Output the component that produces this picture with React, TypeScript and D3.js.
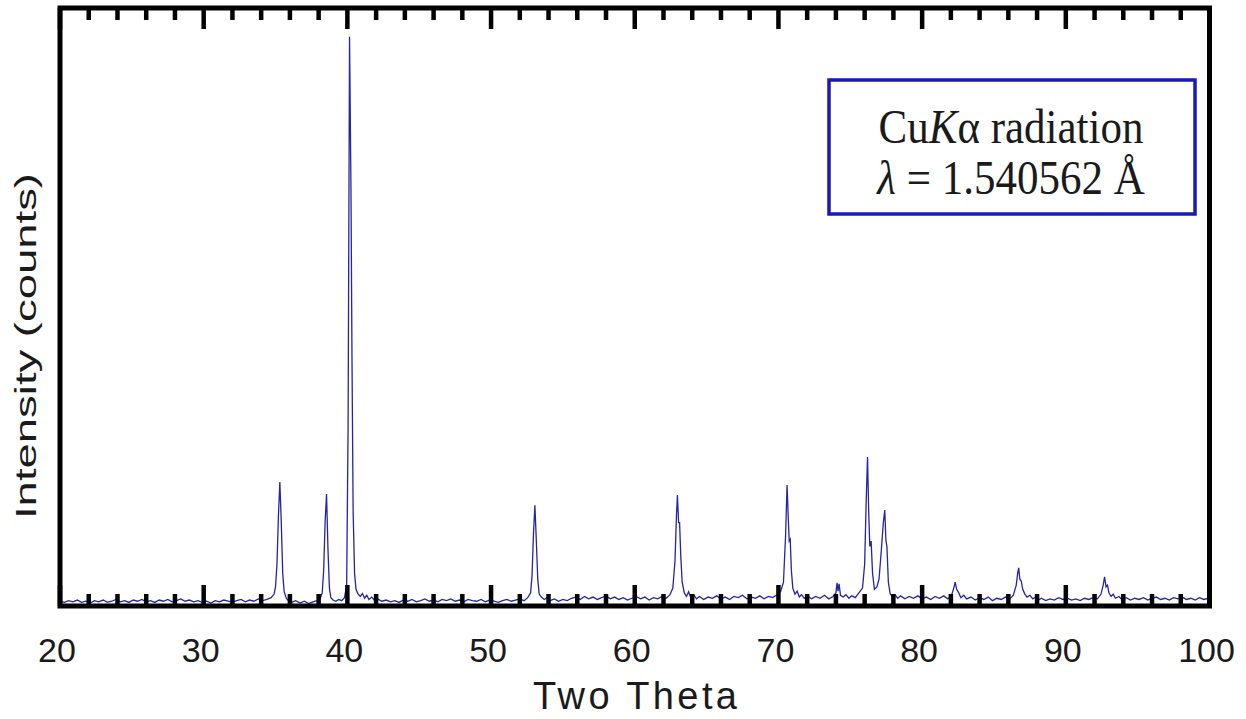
import React from "react";
import * as d3 from "d3";

// XRD scan: [2θ (deg), intensity (arb. counts)]
const scan: [number, number][] = [
  [20.0, 8], [20.3, 6], [20.6, 9], [20.9, 7], [21.2, 10], [21.5, 6], [21.8, 8], [22.1, 5], [22.4, 9], [22.7, 7],
  [23.0, 10], [23.3, 6], [23.6, 8], [23.9, 11], [24.2, 7], [24.5, 9], [24.8, 6], [25.1, 10], [25.4, 8], [25.7, 11],
  [26.0, 7], [26.3, 9], [26.6, 6], [26.9, 10], [27.2, 8], [27.5, 11], [27.8, 7], [28.1, 9], [28.4, 12], [28.7, 8],
  [29.0, 10], [29.3, 7], [29.6, 9], [29.9, 6], [30.2, 8], [30.5, 5], [30.8, 9], [31.1, 7], [31.4, 10], [31.7, 8],
  [32.0, 6], [32.3, 9], [32.6, 11], [32.9, 7], [33.2, 10], [33.5, 8], [33.8, 12], [34.1, 9], [34.4, 11], [34.7, 14],
  [34.9, 20], [35.0, 32], [35.1, 70], [35.2, 150], [35.3, 208], [35.4, 140], [35.5, 55], [35.6, 24], [35.75, 13],
  [35.9, 9], [36.1, 6], [36.4, 9], [36.7, 5], [37.0, 8], [37.3, 4], [37.6, 7], [37.9, 9], [38.1, 12], [38.25, 22],
  [38.35, 60], [38.45, 140], [38.55, 188], [38.65, 95], [38.75, 30], [38.85, 14], [39.0, 10], [39.2, 8], [39.4, 11],
  [39.6, 9], [39.8, 14], [39.95, 35], [40.05, 300], [40.15, 955], [40.25, 700], [40.32, 420], [40.4, 160], [40.5, 55],
  [40.6, 28], [40.75, 20], [40.9, 16], [41.05, 21], [41.2, 13], [41.35, 18], [41.5, 11], [41.7, 15], [41.9, 9],
  [42.1, 12], [42.4, 8], [42.7, 10], [43.0, 7], [43.3, 9], [43.6, 6], [43.9, 10], [44.2, 8], [44.5, 11], [44.8, 7],
  [45.1, 9], [45.4, 12], [45.7, 8], [46.0, 10], [46.3, 7], [46.6, 11], [46.9, 9], [47.2, 12], [47.5, 8], [47.8, 10],
  [48.1, 7], [48.4, 11], [48.7, 9], [49.0, 8], [49.3, 11], [49.6, 7], [49.9, 10], [50.2, 8], [50.5, 6], [50.8, 9],
  [51.1, 11], [51.4, 8], [51.7, 10], [52.0, 12], [52.3, 9], [52.55, 14], [52.75, 22], [52.85, 50], [52.95, 120],
  [53.05, 169], [53.15, 110], [53.25, 45], [53.35, 20], [53.5, 15], [53.7, 11], [53.9, 14], [54.1, 9], [54.4, 12],
  [54.7, 8], [55.0, 11], [55.3, 9], [55.6, 13], [55.9, 15], [56.2, 11], [56.5, 16], [56.8, 12], [57.1, 15], [57.4, 11],
  [57.7, 14], [58.0, 17], [58.3, 12], [58.6, 15], [58.9, 11], [59.2, 14], [59.5, 10], [59.8, 13], [60.1, 16], [60.4, 12],
  [60.7, 15], [61.0, 10], [61.3, 14], [61.6, 12], [61.9, 16], [62.2, 13], [62.45, 19], [62.65, 30], [62.8, 75],
  [62.9, 150], [62.97, 186], [63.05, 140], [63.12, 140], [63.2, 85], [63.3, 40], [63.45, 22], [63.6, 16], [63.75, 24],
  [63.9, 14], [64.1, 19], [64.3, 12], [64.5, 16], [64.8, 11], [65.1, 15], [65.4, 13], [65.7, 17], [66.0, 12], [66.3, 15],
  [66.6, 11], [66.9, 16], [67.2, 14], [67.5, 18], [67.8, 12], [68.1, 15], [68.4, 13], [68.7, 17], [69.0, 12], [69.3, 16],
  [69.6, 14], [69.9, 19], [70.15, 24], [70.35, 40], [70.5, 120], [70.6, 203], [70.68, 150], [70.75, 109], [70.82, 112],
  [70.9, 60], [71.0, 30], [71.15, 20], [71.3, 25], [71.45, 15], [71.6, 19], [71.8, 13], [72.0, 17], [72.3, 12], [72.6, 16],
  [72.9, 13], [73.2, 18], [73.5, 12], [73.8, 16], [74.0, 22], [74.08, 39], [74.15, 25], [74.22, 37], [74.32, 18],
  [74.5, 15], [74.7, 19], [74.9, 13], [75.1, 17], [75.35, 14], [75.6, 22], [75.85, 30], [76.0, 70], [76.1, 170],
  [76.2, 250], [76.28, 160], [76.36, 100], [76.45, 109], [76.55, 55], [76.68, 28], [76.85, 32], [77.0, 45], [77.15, 90],
  [77.3, 140], [77.4, 161], [77.48, 110], [77.55, 100], [77.65, 40], [77.78, 20], [77.95, 15], [78.1, 19], [78.3, 13],
  [78.5, 17], [78.8, 12], [79.1, 16], [79.4, 13], [79.7, 17], [80.0, 12], [80.3, 15], [80.6, 11], [80.9, 16], [81.2, 13],
  [81.5, 17], [81.8, 12], [82.05, 18], [82.2, 30], [82.3, 40], [82.4, 28], [82.55, 22], [82.7, 14], [82.9, 18], [83.1, 12],
  [83.4, 15], [83.7, 10], [84.0, 14], [84.3, 11], [84.6, 15], [84.9, 9], [85.2, 13], [85.5, 11], [85.8, 15], [86.1, 12],
  [86.35, 18], [86.55, 35], [86.65, 55], [86.72, 64], [86.8, 45], [86.9, 42], [87.0, 28], [87.15, 20], [87.3, 15],
  [87.5, 18], [87.7, 12], [87.9, 15], [88.1, 10], [88.3, 13], [88.6, 9], [88.9, 12], [89.2, 10], [89.5, 14], [89.8, 11],
  [90.1, 13], [90.4, 10], [90.7, 12], [91.0, 9], [91.3, 13], [91.6, 11], [91.9, 14], [92.2, 12], [92.45, 20], [92.6, 35],
  [92.7, 49], [92.8, 32], [92.9, 35], [93.0, 22], [93.15, 16], [93.3, 20], [93.45, 13], [93.7, 16], [93.9, 11], [94.2, 14],
  [94.5, 10], [94.8, 13], [95.1, 11], [95.4, 14], [95.7, 10], [96.0, 13], [96.3, 15], [96.6, 11], [96.9, 13], [97.2, 10],
  [97.5, 14], [97.8, 12], [98.1, 15], [98.4, 11], [98.7, 13], [99.0, 10], [99.3, 14], [99.6, 11], [99.9, 13], [100, 12],
];

const xTickLabels = [20, 30, 40, 50, 60, 70, 80, 90, 100];
const xMinorTicks = d3.range(20, 101, 2);

const App = () => {
  const width = 1246;
  const height = 719;

  // plot frame
  const left = 60;
  const right = 1209.5;
  const top = 8;
  const bottom = 606;

  const x = d3.scaleLinear([20, 100], [left, right]);
  const y = d3.scaleLinear([0, 1000], [bottom, bottom - 596]);

  const line = d3
    .line<[number, number]>()
    .x((d) => x(d[0]))
    .y((d) => y(d[1]));

  const sans = "'Liberation Sans', Arial, sans-serif";
  const serif = "'Liberation Serif', 'Times New Roman', serif";

  return (
    <svg
      width={width}
      height={height}
      style={{ position: "absolute", left: 0, top: 0, background: "#fff" }}
    >
      <path d={line(scan) ?? ""} fill="none" stroke="#2424a8" strokeWidth={1.3} />

      {/* ticks, inward on bottom and top */}
      {xMinorTicks.map((v) => {
        const len = v % 10 === 0 ? 21 : 12;
        return (
          <g key={v}>
            <line x1={x(v)} x2={x(v)} y1={bottom} y2={bottom - len} stroke="#000" strokeWidth={4.5} />
            <line x1={x(v)} x2={x(v)} y1={top} y2={top + len} stroke="#000" strokeWidth={4.5} />
          </g>
        );
      })}

      <rect
        x={left}
        y={top}
        width={right - left}
        height={bottom - top}
        fill="none"
        stroke="#000"
        strokeWidth={5}
      />

      {xTickLabels.map((v) => (
        <text
          key={v}
          x={x(v) - 3}
          y={662}
          textAnchor="middle"
          fontFamily={sans}
          fontSize={34}
          fill="#1a1a1a"
        >
          {v}
        </text>
      ))}

      <text
        x={635}
        y={709}
        textAnchor="middle"
        fontFamily={sans}
        fontSize={38}
        textLength={204}
        lengthAdjust="spacing"
        fill="#1a1a1a"
      >
        Two Theta
      </text>

      <text
        transform="translate(36,346) rotate(-90)"
        textAnchor="middle"
        fontFamily={sans}
        fontSize={30}
        textLength={346}
        lengthAdjust="spacingAndGlyphs"
        fill="#1a1a1a"
      >
        Intensity (counts)
      </text>

      {/* radiation box */}
      <rect x={829} y={80} width={366} height={134} fill="#fff" stroke="#1a1ab2" strokeWidth={3.5} />
      <text
        transform="translate(1011,143) scale(1,1.12)"
        textAnchor="middle"
        fontFamily={serif}
        fontSize={43}
        fill="#1a1a1a"
      >
        <tspan>Cu</tspan>
        <tspan fontStyle="italic">K</tspan>
        <tspan>α radiation</tspan>
      </text>
      <text
        transform="translate(1011,194) scale(1,1.12)"
        textAnchor="middle"
        fontFamily={serif}
        fontSize={43}
        fill="#1a1a1a"
      >
        <tspan fontStyle="italic">λ</tspan>
        <tspan> = 1.540562 Å</tspan>
      </text>
    </svg>
  );
};

export default App;
